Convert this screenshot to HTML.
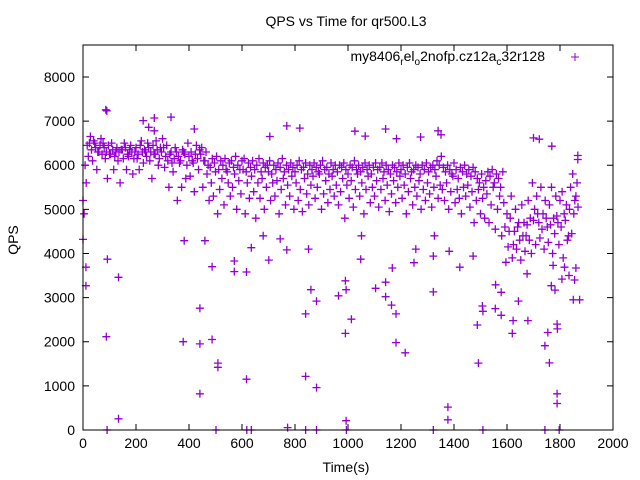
<!DOCTYPE html>
<html><head><meta charset="utf-8"><style>
body{margin:0;background:#fff}
svg{display:block;font-family:"Liberation Sans",sans-serif}
</style></head><body>
<svg id="chart" width="640" height="480" viewBox="0 0 640 480">
<rect width="640" height="480" fill="#fff"/>
<text x="346" y="26" font-size="14" text-anchor="middle">QPS vs Time for qr500.L3</text>
<text x="346" y="472" font-size="14" text-anchor="middle">Time(s)</text>
<text x="18" y="240" font-size="14" text-anchor="middle" transform="rotate(-90 18 240)">QPS</text>
<g id="axes"></g>
<g id="points"></g>
<rect x="83" y="45" width="530" height="385" fill="none" stroke="#000" stroke-width="1"/>
<g>
<text x="545" y="61" font-size="14" text-anchor="end">my8406<tspan font-size="10" dy="4">r</tspan><tspan dy="-4">el</tspan><tspan font-size="10" dy="4">o</tspan><tspan dy="-4">2nofp.cz12a</tspan><tspan font-size="10" dy="4">c</tspan><tspan dy="-4">32r128</tspan></text>
<path d="M571 57h8M575 53v8" stroke="#9400d3" stroke-width="1"/>
</g>
</svg>
<script>
const xTicks = [0,200,400,600,800,1000,1200,1400,1600,1800,2000];
const yTicks = [0,1000,2000,3000,4000,5000,6000,7000,8000];
const bandTimesStart = 0;
const bandA = [5200,6000,6450,6500,6350,6550,6400,6300,6450,6250,
6400,6300,6450,6250,6350,6200,6400,6300,6350,6150,
6400,6250,6350,6300,6150,6400,6250,6450,6300,6350,
6200,6400,6300,6450,6250,6350,6150,6300,6400,6200,
6100,6250,6050,6150,6300,6200,6100,6350,6250,6000,
6200,6300,6050,6250,6150,6350,6400,6100,6300,6000,
5950,6150,6050,6200,5900,6100,6000,6150,5850,6050,
6100,5950,6200,6000,5900,6100,6150,5850,6050,5950,
6100,5900,6000,6150,5850,6050,5950,6000,6100,5800,
6000,5900,6050,5950,6150,5850,6000,5900,6050,5950,
5850,6000,6100,5900,5950,6050,5800,6000,5900,6050,
5950,5850,6000,6100,5900,5950,5800,6050,5900,6000,
5850,6000,5950,6050,5900,5800,6000,5950,6100,5900,
6000,5850,5950,6050,5900,6000,5800,5950,6050,5900,
5950,6050,5850,6000,5900,5800,6000,5950,5850,6050,
5900,6000,5800,5950,6050,5850,5900,6000,5950,5800,
6000,5900,6050,5850,5950,6000,5900,6100,6000,6200,
5950,5850,6000,5900,5800,6050,5900,5700,5950,5850,
6000,5800,5900,5750,5950,5850,5700,5600,5800,5500,
5650,5850,5750,5900,5600,5800,5700,5500,5850,4600,
4900,4500,5300,4200,5000,4600,4300,5100,4700,4400,
5200,4800,5600,5000,5300,4700,5500,4900,5200,4600,
5100,5500,4800,5300,4700,5200,5400,4900,5100,4400,
5500,5800,5200,5600];
const bandB = [4900,5600,6200,6650,6100,6500,5900,6300,6600,6500,
6150,5700,6250,6500,5900,6300,6100,5600,6350,6500,
5900,6200,6450,5800,6300,6150,5900,6550,6050,6300,
6500,6100,5700,6250,6550,6000,6400,6600,5950,6450,
5500,6300,5850,6400,5200,6050,5500,6300,5700,6500,
5750,6100,5400,6450,5900,6250,5500,6100,5800,5200,
5600,5300,5850,4900,5450,5700,5100,5900,5600,5300,
5500,5800,5000,5650,5350,5900,4900,5600,5250,5750,
5400,4800,5600,5250,5700,5000,5500,5850,5200,5600,
5300,5650,4900,5450,5700,5100,5550,5300,5750,5000,
5600,5200,5450,4950,5700,5350,5100,5550,5750,5250,
5500,5800,5000,5350,5650,5150,5450,5750,5300,5550,
5100,5400,5700,4800,5550,5250,5650,5050,5450,5800,
5300,5600,4900,5450,5750,5150,5500,5300,5650,5050,
5450,5700,5200,5550,4950,5350,5650,5150,5500,5750,
5250,5550,4900,5400,5700,5100,5500,5300,5650,5000,
5450,5200,5600,5350,5050,5500,5750,5250,5550,5450,
5200,5600,5000,5400,5750,5150,5450,5250,4900,5500,
5300,5550,5050,5400,4700,5200,5450,4900,5250,4800,
5350,4700,5100,5500,4550,5000,5300,4400,5150,3800,
4150,4800,3900,4500,4100,4700,3850,4400,4050,4650,
4300,4000,4750,4200,4900,4350,4550,4100,4800,4250,
4650,4000,4450,4850,4200,4600,3900,4750,4300,5000,
4450,4900,5300,5050];
const outT = [88,91,92,134,134,11,11,0,382,378,441,441,441,460,487,487,509,509,571,571,617,617,635,680,701,744,769,772,840,840,851,860,881,881,964,990,993,990,993,1013,1048,1051,1104,1142,1142,1164,1167,1181,1181,1216,1249,1256,1322,1322,1326,1377,1377,1382,1422,1472,1488,1492,1507,1509,1556,1578,1557,1578,1620,1623,1643,1679,1676,1743,1754,1760,1789,1789,1789,1790,1850,1874,1781,1767,1807,1834,1855,1860,1817,1774,
91,502,618,635,840,881,994,1322,1509,1743,1797,
86,90,227,269,332,248,269,420,769,818,1026,1142,1340,1351,1700,1722,705,1065,1183,1274,1769,1867,1867];
const outQ = [2115,0,3870,3460,254,3690,3270,4320,4290,2000,2760,1950,820,4290,3700,2050,1515,1420,3830,3590,3580,1150,4130,4400,3850,4330,4080,55,2630,1215,4100,3180,2920,960,3040,3380,3180,2190,210,2510,3870,4400,3210,3350,3020,2830,3670,2630,1980,1750,3790,4100,3130,3940,4400,520,230,4050,3690,3940,2380,1515,2810,2690,2750,2600,3290,3120,2190,2480,2920,2480,3540,1910,2210,1520,820,600,2400,2290,2950,2950,3170,3270,3420,3500,3400,3670,3690,3730,
0,0,0,0,0,0,0,0,0,0,0,
7256,7230,7010,7070,7090,6860,6780,6820,6890,6840,6770,6820,6780,6690,6620,6590,6650,6660,6600,6640,6430,6220,6130];

const X = t => 83 + t * 530 / 2000;
const Y = v => 430 - v * 385 / 8724;
const NS = "http://www.w3.org/2000/svg";
const axes = document.getElementById('axes');
const pts = document.getElementById('points');

xTicks.forEach(v => {
  const x = X(v);
  const p = document.createElementNS(NS, 'path');
  p.setAttribute('d', `M${x} 430v-6M${x} 45v6`);
  p.setAttribute('stroke', '#000');
  
  
  axes.appendChild(p);
  const t = document.createElementNS(NS, 'text');
  t.setAttribute('x', x); t.setAttribute('y', 448);
  t.setAttribute('font-size', '14'); t.setAttribute('text-anchor', 'middle');
  t.textContent = v;
  
  
  axes.appendChild(t);
});
yTicks.forEach(v => {
  const y = Y(v);
  const p = document.createElementNS(NS, 'path');
  p.setAttribute('d', `M83 ${y}h6M613 ${y}h-6`);
  p.setAttribute('stroke', '#000');
  
  
  axes.appendChild(p);
  const t = document.createElementNS(NS, 'text');
  t.setAttribute('x', 75); t.setAttribute('y', y + 5);
  t.setAttribute('font-size', '14'); t.setAttribute('text-anchor', 'end');
  t.textContent = v;
  
  
  axes.appendChild(t);
});

let d = '';
function plus(t, q) {
  const x = X(t), y = Y(q);
  d += `M${(x-4).toFixed(1)} ${y.toFixed(1)}h8M${x.toFixed(1)} ${(y-4).toFixed(1)}v8`;
}
bandA.forEach((q, i) => plus(bandTimesStart + i * 8, q));
bandB.forEach((q, i) => plus(bandTimesStart + 4 + i * 8, q));
outT.forEach((t, i) => plus(t, outQ[i]));
const path = document.createElementNS(NS, 'path');
path.setAttribute('d', d);
path.setAttribute('stroke', '#9400d3');
path.setAttribute('stroke-width', '1.3');
path.setAttribute('fill', 'none');


pts.appendChild(path);
</script>
</body></html>
